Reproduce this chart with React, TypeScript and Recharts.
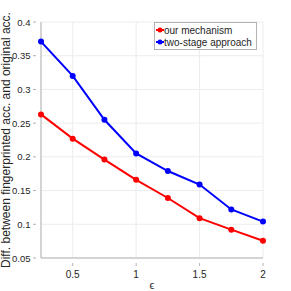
import { LineChart, Line, XAxis, YAxis, CartesianGrid } from 'recharts';

const epsilons = [0.25, 0.5, 0.75, 1, 1.25, 1.5, 1.75, 2];
const ourMechanism = [0.263, 0.227, 0.196, 0.166, 0.139, 0.109, 0.092, 0.0755];
const twoStage = [0.371, 0.32, 0.255, 0.205, 0.179, 0.159, 0.122, 0.104];
const xTicks = [0.5, 1, 1.5, 2];
const yTicks = [0.05, 0.1, 0.15, 0.2, 0.25, 0.3, 0.35, 0.4];

const seriesNames = ['our mechanism', 'two-stage approach'];
const seriesColors = ['#ff0000', '#0000ff'];

const data = epsilons.map((e, i) => ({
  eps: e,
  ours: ourMechanism[i],
  twoStage: twoStage[i],
}));

const FONT = 'Liberation Sans, Arial, sans-serif';
const AXIS = '#b3b3b3';
const TEXT = '#262626';

// MATLAB-style ticks: mark drawn inward, label outside
function XTick(props: any) {
  const { x, y, payload } = props;
  return (
    <g>
      <line x1={x} y1={y} x2={x} y2={y - 3} stroke={AXIS} strokeWidth={1} />
      <text x={x} y={y + 12} textAnchor="middle" fontSize={10} fontFamily={FONT} fill={TEXT}>
        {payload.value}
      </text>
    </g>
  );
}

function YTick(props: any) {
  const { x, y, payload } = props;
  return (
    <g>
      <line x1={x} y1={y} x2={x + 3} y2={y} stroke={AXIS} strokeWidth={1} />
      <text x={x - 2.5} y={y + 3.5} textAnchor="end" fontSize={9.5} fontFamily={FONT} fill={TEXT}>
        {payload.value}
      </text>
    </g>
  );
}

function LegendBox() {
  return (
    <div
      style={{
        position: 'absolute',
        left: 154,
        top: 22,
        border: `1px solid ${AXIS}`,
        background: '#fff',
        padding: '1px 4px 1px 1px',
        fontFamily: FONT,
        fontSize: 10,
        color: TEXT,
        lineHeight: '11px',
      }}
    >
      {seriesNames.map((name, i) => (
        <div key={name} style={{ display: 'flex', alignItems: 'center', height: 12 }}>
          <svg width={8} height={8}>
            <line x1={0} y1={4} x2={8} y2={4} stroke={seriesColors[i]} strokeWidth={2} />
            <circle cx={4} cy={4} r={2.5} fill={seriesColors[i]} />
          </svg>
          <span>{name}</span>
        </div>
      ))}
    </div>
  );
}

export default function App() {
  return (
    <div style={{ position: 'absolute', left: 0, top: 0, width: 291, height: 291, background: '#fff' }}>
      <LineChart
        width={291}
        height={291}
        data={data}
        margin={{ top: 22, right: 28, left: 0, bottom: 0 }}
      >
        <CartesianGrid stroke="#ececec" strokeWidth={1} />
        <XAxis
          dataKey="eps"
          type="number"
          domain={[0.25, 2]}
          ticks={xTicks}
          height={33}
          stroke={AXIS}
          tickLine={false}
          tick={<XTick />}
          label={{ value: 'ϵ', position: 'insideBottom', offset: 2, fontSize: 11, fontFamily: FONT, fill: TEXT }}
        />
        <XAxis xAxisId="top" orientation="top" type="number" domain={[0.25, 2]} height={0} stroke={AXIS} tick={false} tickLine={false} />
        <YAxis
          type="number"
          domain={[0.05, 0.4]}
          ticks={yTicks}
          width={41}
          stroke={AXIS}
          tickLine={false}
          tick={<YTick />}
          label={{
            value: 'Diff. between fingerprinted acc. and original acc.',
            angle: -90,
            position: 'insideLeft',
            offset: 0,
            dx: 6,
            style: { textAnchor: 'middle', fontSize: 12, fontFamily: FONT, fill: TEXT },
          }}
        />
        <YAxis yAxisId="right" orientation="right" type="number" domain={[0.05, 0.4]} width={0} stroke={AXIS} tick={false} tickLine={false} />
        <Line
          dataKey="ours"
          name={seriesNames[0]}
          stroke={seriesColors[0]}
          strokeWidth={2}
          dot={{ r: 3, fill: seriesColors[0], stroke: seriesColors[0], strokeWidth: 0 }}
          isAnimationActive={false}
        />
        <Line
          dataKey="twoStage"
          name={seriesNames[1]}
          stroke={seriesColors[1]}
          strokeWidth={2}
          dot={{ r: 3, fill: seriesColors[1], stroke: seriesColors[1], strokeWidth: 0 }}
          isAnimationActive={false}
        />
      </LineChart>
      <LegendBox />
    </div>
  );
}
